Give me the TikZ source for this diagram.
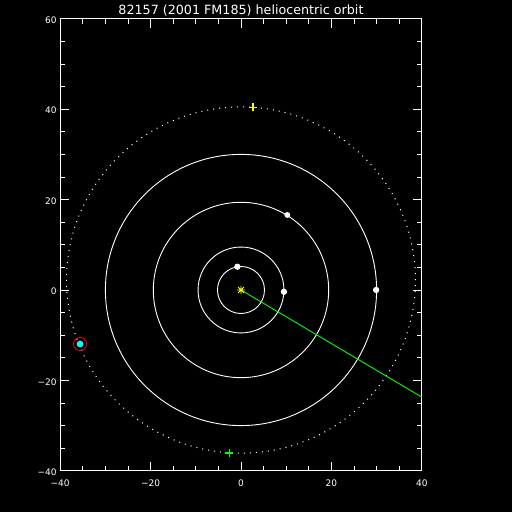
\documentclass[tikz,border=0pt]{standalone}
\usepackage{fontspec}
\setmainfont{DejaVu Sans}
\definecolor{idlgreen}{RGB}{0,255,0}
\definecolor{idlyellow}{RGB}{255,255,0}
\definecolor{idlcyan}{RGB}{0,255,255}
\definecolor{idlred}{RGB}{255,0,0}
\tikzset{
  ticklbl/.style={text=white,font=\fontsize{9}{9}\selectfont,inner sep=0pt},
  planet/.style={fill=white},
  orbit/.style={draw=white,line width=0.9pt},
  marker/.style={line width=1.4pt}
}
\begin{document}
\begin{tikzpicture}[x=4.52pt,y=4.52pt,line width=0.8pt]
		\useasboundingbox (-53.32,-49.12) rectangle (59.96,64.16);
		\fill[black] (-53.32,-49.12) rectangle (59.96,64.16);
		% frame and ticks
		\draw[white] (-40,-40) rectangle (40,60);
		\foreach \x in {-40,-35,...,40} {
			\draw[white] (\x,-40) -- ++(0,1.1);
			\draw[white] (\x,60) -- ++(0,-1.1);}
		\foreach \x in {-20,0,20} {
			\draw[white] (\x,-40) -- ++(0,2);
			\draw[white] (\x,60) -- ++(0,-2);}
		\foreach \y in {-40,-35,...,60} {
			\draw[white] (-40,\y) -- ++(1.1,0);
			\draw[white] (40,\y) -- ++(-1.1,0);}
		\foreach \y in {-20,0,20,40} {
			\draw[white] (-40,\y) -- ++(2,0);
			\draw[white] (40,\y) -- ++(-2,0);}
		\foreach \x/\t [count=\i] in {-40/−40,-20/−20,0/0,20/20,40/40}
			\node[ticklbl,anchor=base] (xl\i) at (\x,-43.4) {\t};
		\foreach \y/\t [count=\i] in {-40/−40,-20/−20,0/0,20/20,40/40,60/60}
			\node[ticklbl,anchor=east] (yl\i) at (-40.7,\y-0.3) {\t};
		\node[text=white,font=\fontsize{12.7}{12.7}\selectfont,inner sep=0pt,anchor=base] (title) at (0,61.0) {82157 (2001 FM185) heliocentric orbit};
		% orbits
		\draw[orbit] (0,0) circle (5.2);
		\draw[orbit] (0,0) circle (9.5);
		\draw[orbit] (0,0) circle (19.4);
		\draw[orbit] (0,0) circle (30);
		\draw[white,line width=1pt,dash pattern=on 1pt off 5pt] (0,2.2) ellipse (38.6 and 38.3);
		% direction
		\draw[idlgreen,line width=0.9pt] (0,0) -- (40,-23.7);
		% planets
		\fill[planet] (-0.8,5.15) circle (0.7);
		\fill[planet] (9.5,-0.4) circle (0.7);
		\fill[planet] (10.25,16.6) circle (0.65);
		\fill[planet] (29.9,0) circle (0.7);
		% sun
		\draw[idlyellow,line width=0.8pt] (-0.9,0) -- (0.9,0) (0,-0.9) -- (0,0.9) (-0.65,-0.65) -- (0.65,0.65) (-0.65,0.65) -- (0.65,-0.65);
		% markers
		\draw[marker,draw=idlyellow] (1.8,40.4) -- (3.6,40.4);
		\draw[marker,draw=idlyellow] (2.7,39.5) -- (2.7,41.3);
		\draw[marker,draw=idlgreen] (-3.5,-36.1) -- (-1.7,-36.1);
		\draw[marker,draw=idlgreen] (-2.6,-37.0) -- (-2.6,-35.2);
		% object
		\fill[idlcyan] (-35.6,-11.95) circle (0.75);
		\draw[idlred,line width=0.8pt] (-35.6,-11.95) circle (1.45);
		\end{tikzpicture}
\end{document}
